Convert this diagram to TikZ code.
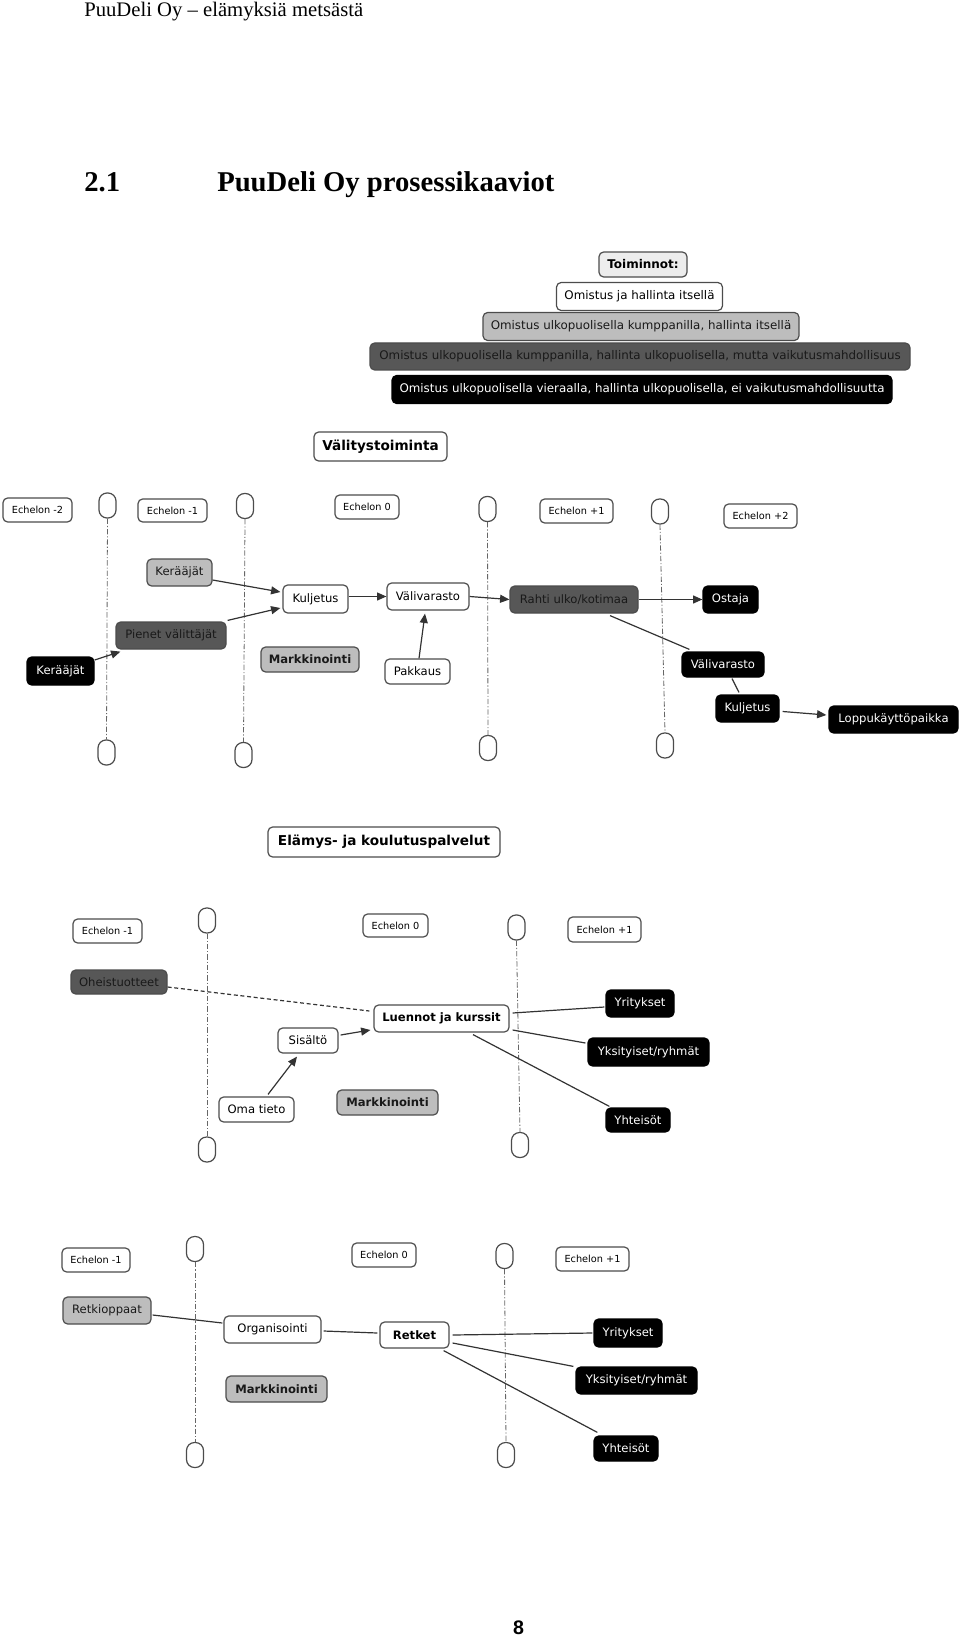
\documentclass[tikz,border=0pt]{standalone}
\usepackage{fontspec}
\setmainfont{Liberation Serif}
\newfontfamily\vf{DejaVu Sans}
\newfontfamily\hv{Liberation Sans}
\usetikzlibrary{arrows.meta,calc}
\definecolor{bdc}{gray}{0.30}
\definecolor{lgc}{gray}{0.74}
\definecolor{dgc}{gray}{0.34}
\definecolor{dtc}{gray}{0.10}
\definecolor{tic}{gray}{0.93}
\definecolor{lnc}{gray}{0.20}
\newcommand\bx[7]{\node[#1,minimum width=#5*0.75pt,minimum height=#6*0.75pt] (#2) at (#3,#4) {#7};}
\tikzset{
 bx/.style={draw=bdc, line width=0.9pt, rounded corners=3.5pt, inner sep=1pt, text=black, font=\vf\fontsize{8.7}{10}\selectfont},
 wh/.style={bx, fill=white},
 lgr/.style={bx, fill=lgc, text=dtc},
 dgr/.style={bx, fill=dgc, text=dtc},
 blk/.style={bx, fill=black, draw=black, text=white},
 bld/.style={font=\vf\bfseries\fontsize{8.7}{10}\selectfont},
 ech/.style={wh, font=\vf\fontsize{7.3}{9}\selectfont},
 ttl/.style={wh, font=\vf\bfseries\fontsize{10.2}{12}\selectfont},
 leg/.style={font=\vf\fontsize{8.9}{10}\selectfont},
 capsl/.style={draw=bdc, fill=white, line width=0.9pt, minimum width=12.75pt, minimum height=18.75pt, rounded corners=6pt, inner sep=0pt},
 ddl/.style={draw=gray!80!black, line width=0.6pt, dash pattern=on 4pt off 1.5pt on 0.8pt off 1.5pt},
 con/.style={draw=lnc, line width=0.9pt},
 arr/.style={con, -{Triangle[length=7pt,width=6pt]}},
 dsh/.style={draw=lnc, line width=0.9pt, dash pattern=on 3pt off 2pt},
}
\begin{document}
\begin{tikzpicture}[x=0.75pt,y=-0.75pt]
\useasboundingbox (0,0) rectangle (960,1640);
% header / title
\node[anchor=base west, inner sep=0pt, font=\fontsize{15.5}{17}\selectfont] (hdr) at (84,17) {PuuDeli Oy – elämyksiä metsästä};
\node[anchor=base west, inner sep=0pt, font=\bfseries\fontsize{21.5}{25}\selectfont] (num) at (84,192) {2.1};
\node[anchor=base west, inner sep=0pt, font=\bfseries\fontsize{21.5}{25}\selectfont] (ttl) at (217,192) {PuuDeli Oy prosessikaaviot};
\node[anchor=base, inner sep=0pt, font=\hv\bfseries\fontsize{14.7}{16}\selectfont] (pg) at (518.5,1634) {8};
% legend
\bx{bx,fill=tic,font=\vf\bfseries\fontsize{9}{10}\selectfont}{toi}{643}{264.5}{88}{25}{Toiminnot:}
\bx{wh,leg}{l1}{639.5}{296.5}{166}{28}{Omistus ja hallinta itsellä}
\bx{lgr,leg}{l2}{641}{326.5}{316}{28}{Omistus ulkopuolisella kumppanilla, hallinta itsellä}
\bx{dgr,leg}{l3}{640}{356.5}{540}{27}{Omistus ulkopuolisella kumppanilla, hallinta ulkopuolisella, mutta vaikutusmahdollisuus}
\bx{blk,leg}{l4}{642}{389.5}{500}{28}{Omistus ulkopuolisella vieraalla, hallinta ulkopuolisella, ei vaikutusmahdollisuutta}
% ---------- section 1
\bx{ttl}{val}{380.5}{446.5}{133}{29}{Välitystoiminta}
\bx{ech}{e1a}{37.5}{510}{69}{24}{Echelon -2}
\bx{ech}{e1b}{172.5}{510.5}{69}{23}{Echelon -1}
\bx{ech}{e1c}{367}{507}{64}{24}{Echelon 0}
\bx{ech}{e1d}{576.5}{511}{73}{24}{Echelon +1}
\bx{ech}{e1e}{760.5}{516}{73}{24}{Echelon +2}
\node[capsl] (c1at) at (107.5,505.5) {};
\node[capsl] (c1ab) at (106.5,752.5) {};
\node[capsl] (c1bt) at (245,506) {};
\node[capsl] (c1bb) at (243.5,755) {};
\node[capsl] (c1ct) at (487.5,509) {};
\node[capsl] (c1cb) at (488,748) {};
\node[capsl] (c1dt) at (660,511.5) {};
\node[capsl] (c1db) at (665,745.5) {};
\draw[ddl] (c1at.south) -- (c1ab.north);
\draw[ddl] (c1bt.south) -- (c1bb.north);
\draw[ddl] (c1ct.south) -- (c1cb.north);
\draw[ddl] (c1dt.south) -- (c1db.north);
\bx{lgr}{kg}{179.5}{572.5}{65}{27}{Kerääjät}
\bx{dgr}{pv}{171}{635.5}{110}{27}{Pienet välittäjät}
\bx{blk}{kb}{60.5}{671}{67}{28}{Kerääjät}
\bx{wh}{kul}{315.5}{599}{65}{28}{Kuljetus}
\bx{wh}{vv}{428}{596.5}{82}{27}{Välivarasto}
\bx{lgr,bld}{mk1}{310}{659.5}{98}{25}{Markkinointi}
\bx{wh}{pak}{417.5}{671.5}{65}{25}{Pakkaus}
\bx{dgr}{rahti}{574}{599.5}{128}{27}{Rahti ulko/kotimaa}
\bx{blk}{ost}{730.5}{599.5}{55}{27}{Ostaja}
\bx{blk}{vvb}{723}{664.5}{82}{25}{Välivarasto}
\bx{blk}{kulb}{747.5}{708.5}{63}{27}{Kuljetus}
\bx{blk}{lop}{893.5}{719.5}{129}{27}{Loppukäyttöpaikka}
\draw[arr] ($(kb.east)+(0,-11)$) -- ($(pv.south west)+(5,2)$);
\draw[arr] ($(kg.east)+(0,7.5)$) -- ($(kul.west)+(-2,-7)$);
\draw[arr] ($(pv.north east)+(1,-1)$) -- ($(kul.west)+(-2,9)$);
\draw[arr] (kul.east |- vv.west) -- (vv.west);
\draw[arr] ($(pak.north)+(1.5,0)$) -- ($(vv.south)+(-3,3)$);
\draw[arr] (vv.east) -- (rahti.west);
\draw[arr] (rahti.east) -- (ost.west);
\draw[con] ($(rahti.south)+(36,2)$) -- ($(vvb.north west)+(8,-2)$);
\draw[con] ($(vvb.south)+(9,1)$) -- ($(kulb.north)+(-8.5,-2)$);
\draw[arr] ($(kulb.east)+(3,3)$) -- ($(lop.west)+(-2,-4.5)$);
% ---------- section 2
\bx{ttl}{el}{384}{842}{232}{30}{Elämys- ja koulutuspalvelut}
\bx{ech}{e2a}{107.5}{931}{69}{24}{Echelon -1}
\bx{ech}{e2b}{395.5}{925.5}{65}{23}{Echelon 0}
\bx{ech}{e2c}{604.5}{929.5}{73}{25}{Echelon +1}
\node[capsl] (c2at) at (207,920.5) {};
\node[capsl] (c2ab) at (207,1149.5) {};
\node[capsl] (c2bt) at (516.5,927.5) {};
\node[capsl] (c2bb) at (520,1145) {};
\draw[ddl] (c2at.south) -- (c2ab.north);
\draw[ddl] (c2bt.south) -- (c2bb.north);
\bx{dgr}{oh}{119}{982}{96}{24}{Oheistuotteet}
\bx{wh,bld}{lk}{441.5}{1018.5}{135}{27}{Luennot ja kurssit}
\bx{wh}{sis}{308}{1040.5}{60}{25}{Sisältö}
\bx{wh}{oma}{256.5}{1109.5}{75}{25}{Oma tieto}
\bx{lgr,bld}{mk2}{387.5}{1102.5}{101}{25}{Markkinointi}
\bx{blk}{yr2}{640}{1003.5}{68}{27}{Yritykset}
\bx{blk}{yk2}{648.5}{1052}{121}{28}{Yksityiset/ryhmät}
\bx{blk}{yh2}{638}{1120}{64}{24}{Yhteisöt}
\draw[dsh] ($(oh.east)+(0,5)$) -- ($(lk.west)+(-4,-7.5)$);
\draw[arr] ($(sis.east)+(2,-5.5)$) -- ($(lk.west)+(-3,11.5)$);
\draw[arr] ($(oma.north)+(11.5,-2)$) -- ($(sis.south)+(-11,3)$);
\draw[con] ($(lk.east)+(3,-5.5)$) -- ($(yr2.west)+(-1,3.5)$);
\draw[con] ($(lk.east)+(3,11.5)$) -- ($(yk2.west)+(-2,-9)$);
\draw[con] ($(lk.south)+(31.5,2)$) -- ($(yh2.north west)+(4,-1)$);
% ---------- section 3
\bx{ech}{e3a}{96}{1260}{68}{24}{Echelon -1}
\bx{ech}{e3b}{384}{1255}{64}{24}{Echelon 0}
\bx{ech}{e3c}{592.5}{1259}{73}{24}{Echelon +1}
\node[capsl] (c3at) at (195,1249) {};
\node[capsl] (c3ab) at (195,1455) {};
\node[capsl] (c3bt) at (504.5,1256) {};
\node[capsl] (c3bb) at (506,1455) {};
\draw[ddl] (c3at.south) -- (c3ab.north);
\draw[ddl] (c3bt.south) -- (c3bb.north);
\bx{lgr}{rk}{107}{1310.5}{88}{27}{Retkioppaat}
\bx{wh}{org}{272.5}{1329.5}{97}{27}{Organisointi}
\bx{wh,bld}{ret}{414.5}{1335}{69}{26}{Retket}
\bx{lgr,bld}{mk3}{276.5}{1389}{101}{26}{Markkinointi}
\bx{blk}{yr3}{628}{1333}{68}{28}{Yritykset}
\bx{blk}{yk3}{636.5}{1380.5}{121}{27}{Yksityiset/ryhmät}
\bx{blk}{yh3}{626}{1448.5}{64}{25}{Yhteisöt}
\draw[con] ($(rk.east)+(1,4.5)$) -- ($(org.west)+(-1,-6.5)$);
\draw[con] ($(org.east)+(2,1.5)$) -- ($(ret.west)+(-2,-2)$);
\draw[con] ($(ret.east)+(3,0)$) -- ($(yr3.west)+(-1,0)$);
\draw[con] ($(ret.east)+(3,8)$) -- ($(yk3.north west)+(-2,0)$);
\draw[con] ($(ret.south east)+(-6,2)$) -- ($(yh3.north west)+(4,-3)$);
\end{tikzpicture}
\end{document}
